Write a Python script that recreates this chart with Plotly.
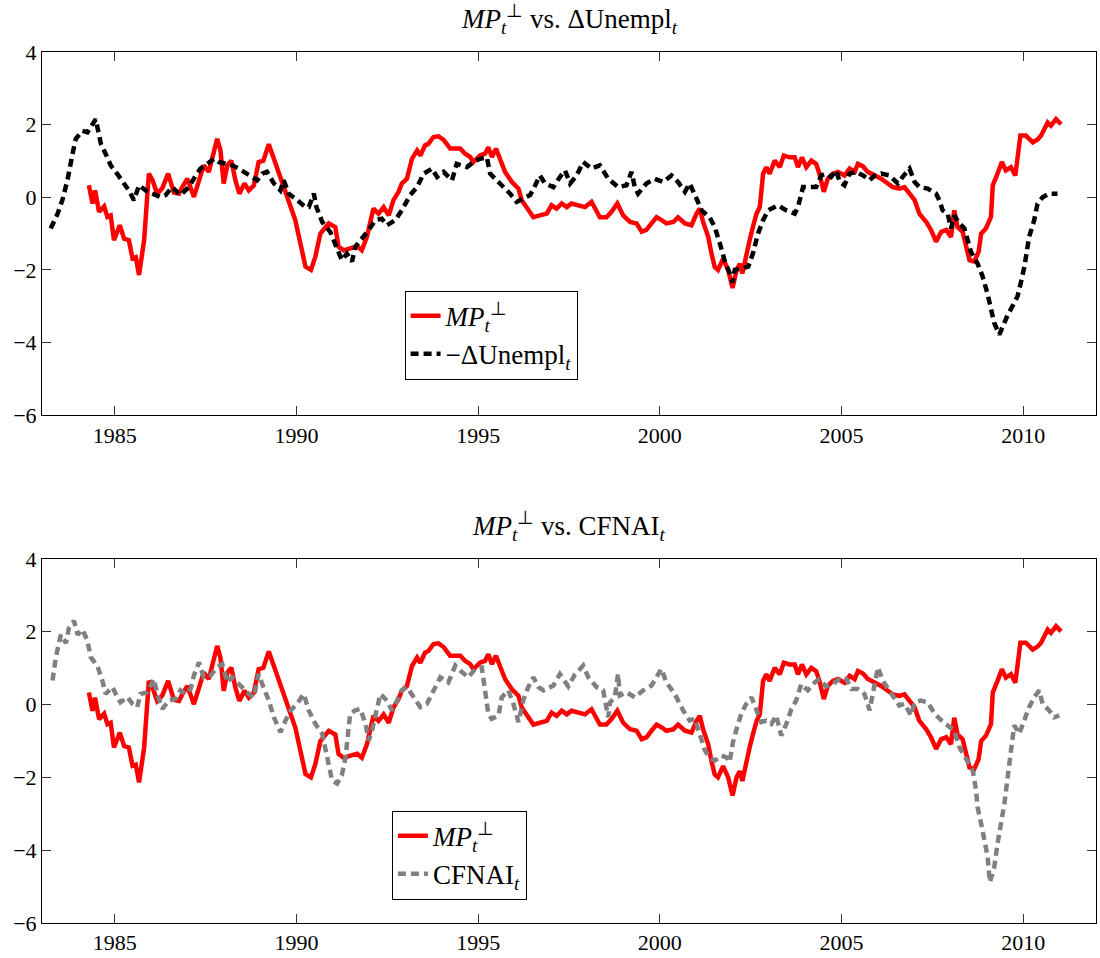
import plotly.graph_objects as go

# ---------------- data (decimal years) ----------------
mp_t = [1984.29, 1984.39, 1984.46, 1984.57, 1984.71, 1984.80, 1984.89, 1984.98, 1985.14, 1985.26,
        1985.39, 1985.49, 1985.58, 1985.67, 1985.81, 1985.94, 1986.04, 1986.17, 1986.31, 1986.47,
        1986.63, 1986.77, 1986.86, 1987.00, 1987.18, 1987.32, 1987.45, 1987.59, 1987.73, 1987.82,
        1987.91, 1988.00, 1988.10, 1988.21, 1988.32, 1988.43, 1988.57, 1988.69, 1988.83, 1988.96,
        1989.09, 1989.24, 1989.38, 1989.56, 1989.74, 1989.97, 1990.11, 1990.25, 1990.40, 1990.52,
        1990.66, 1990.89, 1991.07, 1991.16, 1991.30, 1991.48, 1991.67, 1991.80, 1991.94, 1992.12,
        1992.26, 1992.40, 1992.54, 1992.67, 1992.81, 1992.90, 1993.04, 1993.18, 1993.32, 1993.41,
        1993.54, 1993.63, 1993.77, 1993.91, 1994.05, 1994.23, 1994.37, 1994.51, 1994.64, 1994.78,
        1994.87, 1995.05, 1995.19, 1995.28, 1995.38, 1995.49, 1995.60, 1995.74, 1995.93, 1996.11,
        1996.20, 1996.34, 1996.52, 1996.70, 1996.89, 1997.02, 1997.16, 1997.30, 1997.44, 1997.57,
        1997.71, 1997.94, 1998.12, 1998.35, 1998.53, 1998.67, 1998.83, 1998.99, 1999.18, 1999.36,
        1999.50, 1999.63, 1999.77, 1999.91, 2000.05, 2000.18, 2000.37, 2000.50, 2000.69, 2000.87,
        2001.01, 2001.10, 2001.19, 2001.33, 2001.42, 2001.51, 2001.60, 2001.74, 2001.88, 2002.00,
        2002.11, 2002.20, 2002.27, 2002.38, 2002.47, 2002.56, 2002.66, 2002.75, 2002.84, 2002.93,
        2003.02, 2003.16, 2003.30, 2003.41, 2003.57, 2003.71, 2003.80, 2003.91, 2004.03, 2004.17,
        2004.30, 2004.39, 2004.51, 2004.62, 2004.76, 2004.90, 2005.08, 2005.22, 2005.36, 2005.45,
        2005.59, 2005.72, 2005.91, 2006.09, 2006.27, 2006.41, 2006.59, 2006.73, 2006.87, 2007.01,
        2007.14, 2007.33, 2007.46, 2007.60, 2007.74, 2007.88, 2008.01, 2008.10, 2008.19, 2008.33,
        2008.42, 2008.52, 2008.65, 2008.77, 2008.84, 2008.97, 2009.11, 2009.16, 2009.29, 2009.41,
        2009.52, 2009.66, 2009.78, 2009.92, 2010.07, 2010.26, 2010.40, 2010.49, 2010.67, 2010.76,
        2010.90, 2011.04]
mp_v = [0.33, -0.17, 0.19, -0.40, -0.25, -0.54, -0.50, -1.18, -0.77, -1.14,
        -1.18, -1.68, -1.65, -2.14, -1.18, 0.65, 0.47, 0.10, 0.25, 0.65,
        0.13, 0.10, 0.28, 0.51, 0.01, 0.47, 0.88, 0.70, 1.29, 1.61,
        1.29, 0.38, 0.88, 1.01, 0.47, 0.10, 0.38, 0.19, 0.33, 0.97,
        1.01, 1.46, 1.06, 0.56, 0.01, -0.63, -1.27, -1.91, -2.00, -1.64,
        -1.00, -0.72, -0.82, -1.36, -1.46, -1.42, -1.35, -1.46, -1.09, -0.31,
        -0.45, -0.27, -0.50, -0.08, 0.15, 0.38, 0.51, 1.06, 1.29, 1.15,
        1.43, 1.47, 1.66, 1.68, 1.58, 1.34, 1.34, 1.34, 1.20, 1.11,
        0.97, 1.15, 1.20, 1.38, 1.11, 1.34, 1.06, 0.70, 0.42, 0.24,
        -0.08, -0.27, -0.55, -0.50, -0.45, -0.22, -0.31, -0.17, -0.27, -0.17,
        -0.22, -0.27, -0.13, -0.55, -0.55, -0.40, -0.17, -0.50, -0.68, -0.72,
        -0.95, -0.90, -0.72, -0.55, -0.63, -0.72, -0.68, -0.55, -0.72, -0.77,
        -0.45, -0.31, -0.68, -1.09, -1.55, -1.92, -2.00, -1.69, -2.00, -2.50,
        -2.00, -1.83, -2.10, -1.55, -1.18, -0.82, -0.45, -0.27, 0.65, 0.83,
        0.65, 1.01, 0.83, 1.15, 1.10, 1.10, 0.83, 1.10, 0.83, 1.01,
        0.92, 0.65, 0.15, 0.51, 0.65, 0.70, 0.60, 0.79, 0.70, 0.92,
        0.85, 0.70, 0.60, 0.51, 0.38, 0.28, 0.24, 0.28, 0.10, -0.08,
        -0.45, -0.68, -0.90, -1.22, -0.95, -0.90, -1.09, -0.36, -0.82, -0.95,
        -1.32, -1.73, -1.77, -1.50, -1.00, -0.86, -0.54, 0.33, 0.65, 0.97,
        0.74, 0.83, 0.60, 1.70, 1.70, 1.51, 1.60, 1.70, 2.06, 1.97,
        2.15, 2.01]

un_t = [1983.24, 1983.43, 1983.56, 1983.70, 1983.84, 1983.93, 1984.11, 1984.25, 1984.48, 1984.62,
        1984.75, 1984.89, 1985.03, 1985.21, 1985.39, 1985.53, 1985.67, 1985.90, 1986.13, 1986.26,
        1986.40, 1986.58, 1986.81, 1987.04, 1987.23, 1987.36, 1987.55, 1987.73, 1987.87, 1988.05,
        1988.23, 1988.41, 1988.55, 1988.74, 1988.92, 1989.06, 1989.19, 1989.38, 1989.56, 1989.65,
        1989.79, 1990.02, 1990.25, 1990.34, 1990.48, 1990.55, 1990.71, 1990.93, 1991.07, 1991.25,
        1991.39, 1991.53, 1991.62, 1991.80, 1991.99, 1992.17, 1992.35, 1992.49, 1992.72, 1992.90,
        1993.13, 1993.32, 1993.50, 1993.73, 1993.87, 1994.05, 1994.28, 1994.41, 1994.69, 1994.87,
        1995.05, 1995.24, 1995.33, 1995.60, 1995.88, 1996.06, 1996.24, 1996.43, 1996.57, 1996.70,
        1996.84, 1997.07, 1997.25, 1997.39, 1997.53, 1997.71, 1997.89, 1998.12, 1998.35, 1998.58,
        1998.85, 1999.08, 1999.22, 1999.31, 1999.40, 1999.63, 1999.86, 2000.09, 2000.32, 2000.50,
        2000.69, 2000.82, 2001.01, 2001.15, 2001.37, 2001.51, 2001.65, 2001.79, 2001.92, 2002.00,
        2002.06, 2002.24, 2002.43, 2002.56, 2002.70, 2002.84, 2002.98, 2003.25, 2003.48, 2003.71,
        2003.80, 2003.94, 2004.12, 2004.30, 2004.44, 2004.57, 2004.71, 2004.85, 2004.95, 2005.08,
        2005.22, 2005.40, 2005.59, 2005.77, 2005.91, 2006.09, 2006.32, 2006.55, 2006.68, 2006.87,
        2007.01, 2007.14, 2007.37, 2007.60, 2007.69, 2007.78, 2007.92, 2008.01, 2008.10, 2008.24,
        2008.38, 2008.56, 2008.74, 2008.88, 2009.01, 2009.11, 2009.20, 2009.34, 2009.43, 2009.57,
        2009.70, 2009.84, 2009.93, 2010.03, 2010.16, 2010.30, 2010.39, 2010.53, 2010.71, 2010.94]
un_v = [-0.86, -0.45, -0.08, 0.47, 1.20, 1.61, 1.83, 1.79, 2.15, 1.47,
        1.20, 0.88, 0.70, 0.47, 0.19, -0.08, 0.33, 0.15, 0.06, 0.01,
        0.06, 0.28, 0.06, 0.28, 0.60, 0.79, 0.92, 1.06, 0.97, 0.92,
        0.88, 0.79, 0.70, 0.56, 0.47, 0.65, 0.70, 0.38, 0.19, 0.47,
        0.10, -0.08, -0.27, -0.27, 0.10, -0.27, -0.68, -0.95, -1.27, -1.73,
        -1.55, -1.77, -1.36, -1.14, -0.90, -0.63, -0.59, -0.77, -0.63, -0.36,
        0.06, 0.28, 0.65, 0.79, 0.56, 0.70, 0.47, 0.92, 0.83, 0.97,
        1.06, 1.10, 0.65, 0.38, 0.10, -0.13, -0.04, 0.06, 0.33, 0.60,
        0.38, 0.28, 0.56, 0.74, 0.38, 0.60, 0.97, 0.79, 0.88, 0.51,
        0.28, 0.33, 0.70, 0.28, 0.10, 0.38, 0.51, 0.42, 0.60, 0.42,
        0.15, 0.38, -0.04, -0.36, -0.55, -0.82, -1.27, -1.77, -2.09, -2.35,
        -2.00, -1.96, -1.91, -1.55, -1.00, -0.63, -0.36, -0.22, -0.36, -0.45,
        -0.27, 0.28, 0.28, 0.28, 0.60, 0.65, 0.56, 0.74, 0.42, 0.33,
        0.65, 0.70, 0.60, 0.47, 0.60, 0.65, 0.60, 0.38, 0.56, 0.79,
        0.42, 0.28, 0.24, 0.10, -0.08, -0.36, -0.45, -0.86, -0.50, -0.72,
        -0.86, -1.50, -1.82, -2.18, -2.64, -3.09, -3.46, -3.78, -3.55, -3.24,
        -3.00, -2.73, -2.36, -1.91, -1.09, -0.63, -0.18, 0.00, 0.10, 0.10]

cf_t = [1983.29, 1983.38, 1983.52, 1983.66, 1983.74, 1983.88, 1983.98, 1984.11, 1984.25, 1984.34,
        1984.52, 1984.66, 1984.75, 1984.94, 1985.07, 1985.16, 1985.35, 1985.49, 1985.62, 1985.71,
        1985.90, 1986.08, 1986.17, 1986.31, 1986.49, 1986.68, 1986.81, 1986.95, 1987.09, 1987.18,
        1987.32, 1987.45, 1987.64, 1987.82, 1987.96, 1988.10, 1988.23, 1988.37, 1988.51, 1988.69,
        1988.83, 1988.96, 1989.09, 1989.24, 1989.38, 1989.56, 1989.70, 1989.84, 1990.02, 1990.20,
        1990.34, 1990.52, 1990.71, 1990.84, 1990.98, 1991.12, 1991.25, 1991.35, 1991.39, 1991.48,
        1991.62, 1991.76, 1991.90, 1991.99, 1992.08, 1992.17, 1992.31, 1992.49, 1992.63, 1992.77,
        1992.90, 1993.04, 1993.22, 1993.41, 1993.59, 1993.77, 1993.96, 1994.18, 1994.37, 1994.51,
        1994.73, 1994.92, 1995.10, 1995.19, 1995.28, 1995.37, 1995.56, 1995.65, 1995.83, 1995.97,
        1996.11, 1996.24, 1996.38, 1996.52, 1996.66, 1996.80, 1997.07, 1997.25, 1997.48, 1997.66,
        1997.89, 1998.03, 1998.26, 1998.44, 1998.58, 1998.63, 1998.76, 1998.85, 1998.90, 1999.08,
        1999.31, 1999.54, 1999.77, 1999.91, 2000.04, 2000.18, 2000.41, 2000.64, 2000.82, 2000.96,
        2001.10, 2001.24, 2001.37, 2001.51, 2001.70, 2001.83, 2001.92, 2002.01, 2002.10, 2002.24,
        2002.38, 2002.52, 2002.66, 2002.79, 2002.93, 2003.07, 2003.20, 2003.34, 2003.48, 2003.62,
        2003.75, 2003.89, 2004.07, 2004.26, 2004.39, 2004.57, 2004.76, 2004.89, 2004.99, 2005.13,
        2005.27, 2005.45, 2005.63, 2005.77, 2005.91, 2006.00, 2006.13, 2006.36, 2006.59, 2006.73,
        2006.91, 2007.01, 2007.18, 2007.37, 2007.56, 2007.79, 2007.92, 2008.10, 2008.24, 2008.42,
        2008.61, 2008.70, 2008.74, 2008.84, 2008.93, 2009.02, 2009.08, 2009.20, 2009.29, 2009.39,
        2009.48, 2009.57, 2009.66, 2009.75, 2009.89, 2010.03, 2010.16, 2010.30, 2010.44, 2010.53,
        2010.71, 2010.85, 2010.99]
cf_v = [0.66, 1.30, 1.92, 1.69, 2.10, 2.30, 1.92, 2.06, 1.76, 1.30,
        1.07, 0.66, 0.29, 0.48, 0.20, 0.06, 0.20, 0.02, -0.07, 0.29,
        0.34, 0.70, 0.29, -0.12, 0.11, 0.16, 0.39, 0.29, 0.43, 0.80,
        1.16, 0.75, 0.80, 1.02, 1.11, 0.61, 0.75, 0.61, 0.48, 0.29,
        0.20, 0.84, 0.48, 0.11, -0.35, -0.76, -0.44, -0.16, 0.02, 0.29,
        -0.16, -0.53, -0.80, -1.45, -2.08, -2.17, -1.94, -1.45, -0.99, -0.25,
        -0.16, -0.12, -0.53, -0.99, -0.71, -0.35, 0.29, 0.11, -0.16, 0.11,
        0.39, 0.48, 0.20, -0.07, 0.02, 0.39, 0.75, 0.61, 1.07, 0.93,
        0.75, 0.98, 1.02, 0.39, -0.25, -0.39, -0.30, 0.20, 0.39, 0.02,
        -0.48, 0.11, 0.48, 0.75, 0.48, 0.39, 0.52, 0.84, 0.50, 0.82,
        1.07, 0.75, 0.48, 0.39, -0.35, 0.06, 0.20, 0.84, 0.25, 0.34,
        0.20, 0.39, 0.52, 0.75, 0.98, 0.61, 0.29, -0.16, -0.44, -0.39,
        -0.80, -1.26, -1.45, -1.54, -1.40, -1.45, -1.58, -1.04, -0.71, -0.25,
        0.02, 0.20, -0.16, -0.48, -0.44, -0.53, -0.30, -0.85, -0.53, -0.12,
        0.11, 0.56, 0.39, 0.61, 0.70, 0.50, 0.56, 0.68, 0.75, 0.70,
        0.43, 0.43, 0.29, -0.16, 0.61, 1.02, 0.66, 0.29, -0.03, 0.02,
        -0.30, 0.06, 0.11, 0.06, -0.25, -0.48, -0.57, -0.71, -1.17, -1.49,
        -1.81, -2.35, -2.81, -3.27, -3.73, -4.19, -4.88, -4.47, -3.82, -3.27,
        -2.72, -1.99, -1.26, -0.57, -0.80, -0.39, -0.07, 0.20, 0.39, 0.02,
        -0.16, -0.35, -0.30]

x_ticks = [1985, 1990, 1995, 2000, 2005, 2010]
y_ticks = [-6, -4, -2, 0, 2, 4]

MP_NAME = "<i>MP</i><sub><i>t</i></sub><sup>⊥</sup>"
UN_NAME = "−ΔUnempl<sub><i>t</i></sub>"
CF_NAME = "CFNAI<sub><i>t</i></sub>"

FONT = "Liberation Serif"
RED = "#ff0000"
LW = 4.5

fig = go.Figure()
fig.add_trace(go.Scatter(x=mp_t, y=mp_v, mode="lines", name=MP_NAME,
                         line=dict(color=RED, width=LW), xaxis="x", yaxis="y", legend="legend"))
fig.add_trace(go.Scatter(x=un_t, y=un_v, mode="lines", name=UN_NAME,
                         line=dict(color="black", width=LW, dash="8px,5px"),
                         xaxis="x", yaxis="y", legend="legend"))
fig.add_trace(go.Scatter(x=mp_t, y=mp_v, mode="lines", name=MP_NAME,
                         line=dict(color=RED, width=LW), xaxis="x2", yaxis="y2", legend="legend2"))
fig.add_trace(go.Scatter(x=cf_t, y=cf_v, mode="lines", name=CF_NAME,
                         line=dict(color="#808080", width=LW, dash="8px,5px"),
                         xaxis="x2", yaxis="y2", legend="legend2"))

axis_common = dict(showline=True, linecolor="black", linewidth=1, mirror="ticks",
                   ticks="inside", ticklen=9, tickwidth=1, tickcolor="#333333",
                   showgrid=False, zeroline=False,
                   tickfont=dict(family=FONT, size=22, color="black"))

fig.update_layout(
    width=1100, height=958,
    margin=dict(l=42, r=3, t=52, b=33),
    plot_bgcolor="white", paper_bgcolor="white",
    font=dict(family=FONT, size=22, color="black"),
    xaxis=dict(domain=[0, 1], range=[1983, 2012], tickvals=x_ticks, anchor="y", **axis_common),
    yaxis=dict(domain=[0.583, 1], range=[-6, 4], tickvals=y_ticks, anchor="x", **axis_common),
    xaxis2=dict(domain=[0, 1], range=[1983, 2012], tickvals=x_ticks, anchor="y2", **axis_common),
    yaxis2=dict(domain=[0, 0.418], range=[-6, 4], tickvals=y_ticks, anchor="x2", **axis_common),
    legend=dict(x=0.344, y=0.726, xanchor="left", yanchor="top",
                bgcolor="white", bordercolor="black", borderwidth=1,
                font=dict(family=FONT, size=27, color="black")),
    legend2=dict(x=0.332, y=0.129, xanchor="left", yanchor="top",
                 bgcolor="white", bordercolor="black", borderwidth=1,
                 font=dict(family=FONT, size=27, color="black")),
    annotations=[
        dict(text="<i>MP</i><sub><i>t</i></sub><sup>⊥</sup> vs. ΔUnempl<sub><i>t</i></sub>",
             xref="paper", yref="paper", x=0.5, y=1, yshift=12, xanchor="center", yanchor="bottom",
             showarrow=False, font=dict(family=FONT, size=27, color="black")),
        dict(text="<i>MP</i><sub><i>t</i></sub><sup>⊥</sup> vs. CFNAI<sub><i>t</i></sub>",
             xref="paper", yref="paper", x=0.5, y=0.418, yshift=12, xanchor="center", yanchor="bottom",
             showarrow=False, font=dict(family=FONT, size=27, color="black")),
    ],
)

fig.write_html("out.html", config={"displayModeBar": False},
               post_script="document.body.style.margin='0';")
